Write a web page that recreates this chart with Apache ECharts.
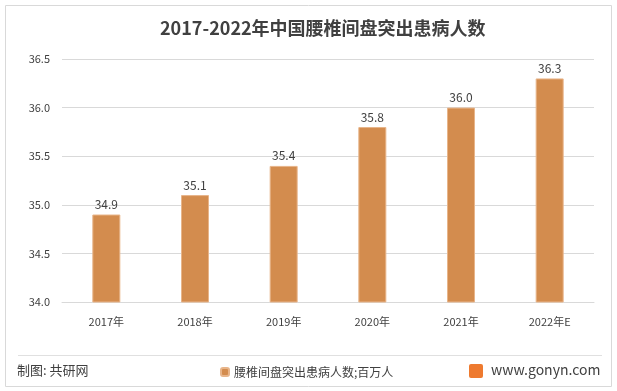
<!DOCTYPE html>
<html><head><meta charset="utf-8">
<script src="https://cdn.jsdelivr.net/npm/echarts@6/dist/echarts.min.js"></script>
<style>html,body{margin:0;padding:0;background:#fff}#c{width:617px;height:391px}</style>
</head><body><div id="c"></div>
<script>
const categories = ['2017年','2018年','2019年','2020年','2021年','2022年E'];
const values = [34.9, 35.1, 35.4, 35.8, 36.0, 36.3];
const seriesName = '腰椎间盘突出患病人数;百万人';
const titleText = '2017-2022年中国腰椎间盘突出患病人数';
const FONT = '"Microsoft YaHei","Noto Sans CJK SC",sans-serif';
const chart = echarts.init(document.getElementById('c'));
chart.setOption({
  animation:false,
  textStyle:{fontFamily:FONT},
  title:{text:titleText,left:160,top:19,padding:0,textStyle:{fontSize:18,fontWeight:'bold',color:'#404040',fontFamily:FONT}},
  grid:{left:62,right:23,top:59,bottom:89},
  legend:{data:[seriesName],left:220,top:366,padding:0,itemWidth:8,itemHeight:8,itemGap:3,
    textStyle:{fontSize:12,color:'#404040',fontFamily:FONT}},
  xAxis:{type:'category',data:categories,axisTick:{show:false},
    axisLine:{lineStyle:{color:'#d9d9d9'}},
    axisLabel:{fontSize:11,color:'#404040',margin:14,fontFamily:FONT}},
  yAxis:{type:'value',min:34,max:36.5,interval:0.5,
    axisLabel:{fontSize:11,color:'#404040',margin:12,formatter:v=>v.toFixed(1),fontFamily:FONT},
    splitLine:{lineStyle:{color:'#d9d9d9'}},axisLine:{show:false},axisTick:{show:false}},
  series:[{name:seriesName,type:'bar',data:values,barWidth:28,
    itemStyle:{color:'#D38C4E',borderColor:'#e8b58a',borderWidth:1},
    label:{show:true,position:'top',fontSize:12,color:'#404040',formatter:p=>p.value.toFixed(1),distance:4}}],
  graphic:[
    {type:'rect',shape:{x:5.5,y:5.5,width:606,height:381},style:{fill:'none',stroke:'#d9d9d9',lineWidth:1},silent:true},
    {type:'line',shape:{x1:18,y1:355.5,x2:602,y2:355.5},style:{stroke:'#e0e0e0',lineWidth:1}},
    {type:'text',left:17,top:364,style:{text:'制图: 共研网',fontSize:13,fill:'#404040',fontFamily:FONT}},
    {type:'rect',shape:{x:469,y:364,width:14,height:14,r:2},style:{fill:'#ee7a2f'}},
    {type:'text',left:491,top:363,style:{text:'www.gonyn.com',fontSize:14,fill:'#404040',fontFamily:FONT}}
  ]
});
</script></body></html>
